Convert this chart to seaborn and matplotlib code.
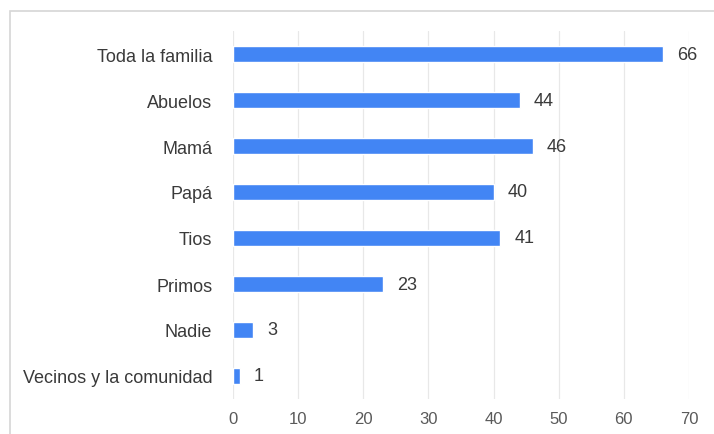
import matplotlib
matplotlib.use("Agg")
import matplotlib.pyplot as plt
import seaborn as sns
import pandas as pd
from matplotlib.patches import Rectangle

categories = ["Toda la familia", "Abuelos", "Mamá", "Papá", "Tios",
              "Primos", "Nadie", "Vecinos y la comunidad"]
values = [66, 44, 46, 40, 41, 23, 3, 1]
x_ticks = [0, 10, 20, 30, 40, 50, 60, 70]

df = pd.DataFrame({"grupo": categories, "n": values})

sns.set_theme(style="white")
plt.rcParams["font.family"] = ["Liberation Sans", "DejaVu Sans"]

fig = plt.figure(figsize=(7.14, 4.35), dpi=100)
ax = fig.add_axes([233 / 714, 1 - 400 / 435, (689 - 233) / 714, (400 - 32) / 435])

sns.barplot(data=df, x="n", y="grupo", order=categories, color="#4285F4",
            saturation=1, width=0.35, ax=ax, orient="h")

ax.set_xlim(0, 70)
ax.set_ylim(7.5, -0.5)
ax.set_xticks(x_ticks)
ax.set_xticklabels([str(t) for t in x_ticks])
ax.xaxis.grid(True, color="#e8e8e8", linewidth=0.9)
ax.set_axisbelow(True)
for s in ax.spines.values():
    s.set_visible(False)
ax.set_xlabel("")
ax.set_ylabel("")
ax.tick_params(axis="x", length=0, pad=9, labelsize=12, labelcolor="#5a5a5a")
ax.tick_params(axis="y", length=0, pad=15, labelsize=13, labelcolor="#3a3a3a")

for i, v in enumerate(values):
    ax.text(v + 2.2, i, str(v), va="center", ha="left", fontsize=13, color="#3a3a3a")

# light frame along the top and left edges
fig.patches.append(Rectangle((10 / 714, -0.1), 1.2, 1.1 - 12 / 435,
                             transform=fig.transFigure, fill=False,
                             edgecolor="#d6d6d6", linewidth=1.2))

fig.savefig("out.png", dpi=100)
